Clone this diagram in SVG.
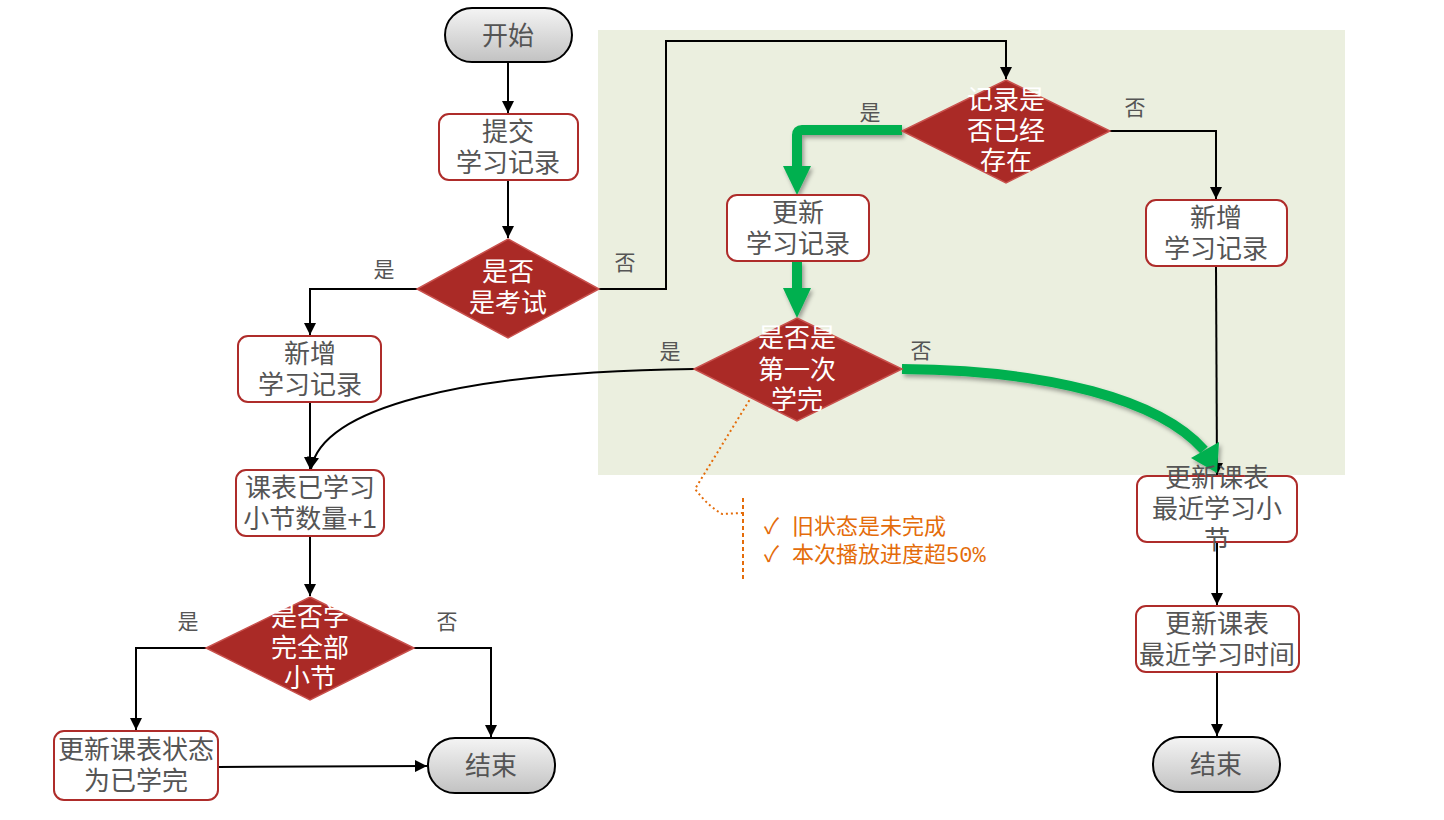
<svg xmlns="http://www.w3.org/2000/svg" width="1444" height="820" viewBox="0 0 1444 820">
<defs>
<linearGradient id="term" x1="0" y1="0" x2="0" y2="1">
<stop offset="0" stop-color="#f4f4f4"/>
<stop offset="1" stop-color="#c2c2c2"/>
</linearGradient>
<marker id="arr" viewBox="0 0 12 12" refX="12" refY="6" markerWidth="12" markerHeight="12" markerUnits="userSpaceOnUse" orient="auto">
<path d="M0,0 L12,6 L0,12 Z" fill="#000"/>
</marker>
<filter id="sh" x="-20%" y="-20%" width="140%" height="140%">
<feDropShadow dx="2" dy="3" stdDeviation="2" flood-color="#000" flood-opacity="0.35"/>
</filter>
</defs>
<style>
.term{fill:url(#term);stroke:#000;stroke-width:2}
.box{fill:#fff;stroke:#AE2C2A;stroke-width:2}
.dia{fill:#AA2A26;stroke:#C9524E;stroke-width:1.5}
.t{font-family:"Liberation Sans","Noto Sans CJK SC",sans-serif;font-size:26px;fill:#555;text-anchor:middle}
.w{font-family:"Liberation Sans","Noto Sans CJK SC",sans-serif;font-size:26px;fill:#fff;text-anchor:middle}
.lb{font-family:"Liberation Sans","Noto Sans CJK SC",sans-serif;font-size:21px;fill:#555;text-anchor:middle}
.ln{fill:none;stroke:#000;stroke-width:2}
.gr{fill:none;stroke:#00B050;stroke-width:10}
.or{font-family:"Liberation Sans","Noto Sans CJK SC",sans-serif;font-size:22px;fill:#E46C0A}
</style>
<rect x="598" y="30" width="747" height="445" fill="#EBEFDF"/>

<g id="connectors">
<path class="ln" d="M508,62 L508,113" marker-end="url(#arr)"/>
<path class="ln" d="M508,180 L508,238" marker-end="url(#arr)"/>
<path class="ln" d="M417,289 L310,289 L310,335" marker-end="url(#arr)"/>
<path class="ln" d="M599,289 L666,289 L666,41 L1006,41 L1006,79" marker-end="url(#arr)"/>
<path class="ln" d="M1110,131 L1216,131 L1216,199" marker-end="url(#arr)"/>
<path class="ln" d="M1216,266 L1217,475" marker-end="url(#arr)"/>
<path class="ln" d="M1217,542 L1217,605" marker-end="url(#arr)"/>
<path class="ln" d="M1217,672 L1217,736" marker-end="url(#arr)"/>
<path class="ln" d="M310,402 L310,469" marker-end="url(#arr)"/>
<path class="ln" d="M694,369 C460,372 322,408 311,469" marker-end="url(#arr)"/>
<path class="ln" d="M310,536 L310,596" marker-end="url(#arr)"/>
<path class="ln" d="M206,648 L136,648 L136,730" marker-end="url(#arr)"/>
<path class="ln" d="M414,648 L491,648 L491,737" marker-end="url(#arr)"/>
<path class="ln" d="M218,767 L427,766" marker-end="url(#arr)"/>
<g filter="url(#sh)">
<path class="gr" d="M902,130 L802,130 Q797,130 797,135 L797,168"/>
<polygon points="783,166 811,166 797,195" fill="#00B050"/>
<path class="gr" d="M797,261 L797,290"/>
<polygon points="783,288 811,288 797,318" fill="#00B050"/>
<path class="gr" d="M902,369 C1050,370 1160,400 1204,450"/>
<polygon points="1191,458 1219,442 1217,473" fill="#00B050"/>
</g>
<path d="M752,396 L695,489 Q708,506 722,514 L743,513" fill="none" stroke="#E46C0A" stroke-width="2" stroke-dasharray="2,3"/>
<path d="M743,498 L743,582" fill="none" stroke="#E46C0A" stroke-width="2" stroke-dasharray="4,3"/>
</g>

<g id="labels">
<text class="lb" x="384" y="277">是</text>
<text class="lb" x="625" y="270">否</text>
<text class="lb" x="870" y="120">是</text>
<text class="lb" x="1135" y="115">否</text>
<text class="lb" x="670" y="359">是</text>
<text class="lb" x="921" y="358">否</text>
<text class="lb" x="188" y="629">是</text>
<text class="lb" x="447" y="629">否</text>
</g>

<g id="start"><rect class="term" x="445" y="8" width="127" height="54" rx="27"/><text class="t" x="508" y="45">开始</text></g>
<g id="submit"><rect class="box" x="439" y="114" width="139" height="66" rx="10"/><text class="t" x="508" y="141">提交</text><text class="t" x="508" y="172">学习记录</text></g>
<g id="isExam"><polygon class="dia" points="508,239 599,289 508,338 417,289"/><text class="w" x="508" y="281">是否</text><text class="w" x="508" y="312">是考试</text></g>
<g id="addLeft"><rect class="box" x="238" y="336" width="143" height="66" rx="10"/><text class="t" x="310" y="363">新增</text><text class="t" x="310" y="394">学习记录</text></g>
<g id="exists"><polygon class="dia" points="1006,80 1110,131 1006,183 902,131"/><text class="w" x="1006" y="109">记录是</text><text class="w" x="1006" y="140">否已经</text><text class="w" x="1006" y="170">存在</text></g>
<g id="updateRec"><rect class="box" x="727" y="195" width="142" height="66" rx="10"/><text class="t" x="798" y="222">更新</text><text class="t" x="798" y="253">学习记录</text></g>
<g id="addRight"><rect class="box" x="1146" y="200" width="141" height="66" rx="10"/><text class="t" x="1216" y="227">新增</text><text class="t" x="1216" y="258">学习记录</text></g>
<g id="firstDone"><polygon class="dia" points="797,318 902,369 797,421 694,369"/><text class="w" x="797" y="347">是否是</text><text class="w" x="797" y="379">第一次</text><text class="w" x="797" y="409">学完</text></g>
<g id="note">
<text class="or" x="764" y="534">✓</text><text class="or" x="792" y="534">旧状态是未完成</text>
<text class="or" x="764" y="562">✓</text><text class="or" x="792" y="562">本次播放进度超<tspan font-family="'Liberation Mono',monospace">50%</tspan></text>
</g>
<g id="countPlus"><rect class="box" x="236" y="470" width="148" height="66" rx="10"/><text class="t" x="310" y="497">课表已学习</text><text class="t" x="310" y="528">小节数量+1</text></g>
<g id="allDone"><polygon class="dia" points="310,597 414,648 310,700 206,648"/><text class="w" x="310" y="626">是否学</text><text class="w" x="310" y="657">完全部</text><text class="w" x="310" y="687">小节</text></g>
<g id="setDone"><rect class="box" x="54" y="731" width="164" height="69" rx="10"/><text class="t" x="136" y="759">更新课表状态</text><text class="t" x="136" y="790">为已学完</text></g>
<g id="end1"><rect class="term" x="428" y="738" width="127" height="55" rx="27"/><text class="t" x="491" y="775">结束</text></g>
<g id="updSection"><rect class="box" x="1137" y="476" width="160" height="66" rx="10"/><text class="t" x="1217" y="487">更新课表</text><text class="t" x="1217" y="518">最近学习小</text><text class="t" x="1217" y="549">节</text></g>
<g id="updTime"><rect class="box" x="1136" y="606" width="163" height="66" rx="10"/><text class="t" x="1217" y="633">更新课表</text><text class="t" x="1217" y="664">最近学习时间</text></g>
<g id="end2"><rect class="term" x="1153" y="737" width="127" height="55" rx="27"/><text class="t" x="1216" y="774">结束</text></g>
</svg>
